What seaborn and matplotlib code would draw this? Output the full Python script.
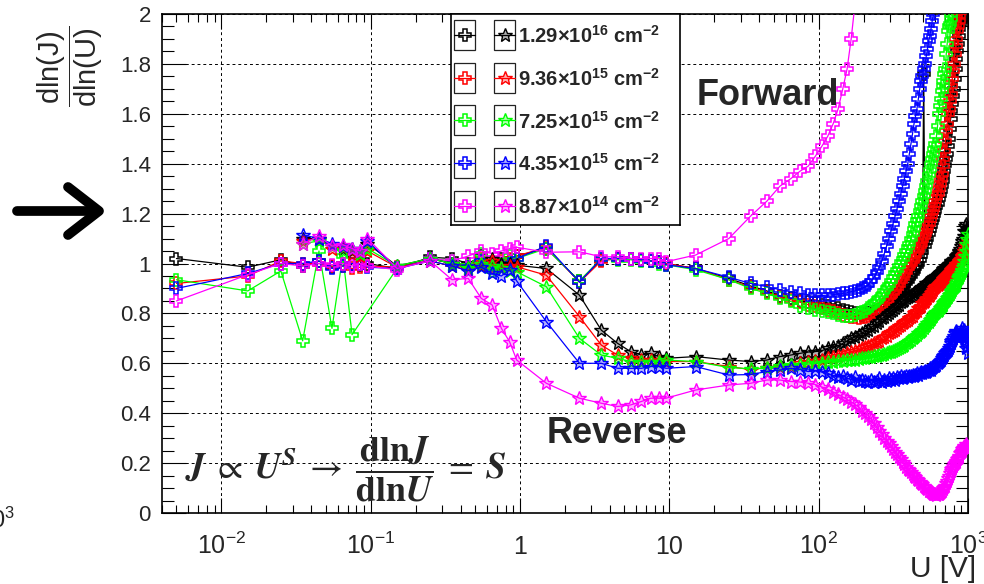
import matplotlib
matplotlib.use("Agg")
import matplotlib.pyplot as plt
import seaborn as sns
import pandas as pd
from matplotlib.lines import Line2D
from matplotlib.patches import Rectangle
from matplotlib.ticker import FixedLocator, FixedFormatter, LogLocator, MultipleLocator, NullFormatter, FuncFormatter

sns.set_theme(style="ticks")
plt.rcParams['font.family'] = ['Liberation Sans', 'DejaVu Sans']
plt.rcParams['mathtext.fontset'] = 'custom'
plt.rcParams['mathtext.rm'] = 'Liberation Sans'
plt.rcParams['mathtext.it'] = 'Liberation Sans:italic'
plt.rcParams['mathtext.bf'] = 'Liberation Sans:bold'
plt.rcParams['mathtext.sf'] = 'Liberation Sans'

# ---------------- data ----------------
U_lo = [0.005, 0.015, 0.025, 0.035, 0.045, 0.055, 0.065, 0.075, 0.085, 0.095,
        0.15, 0.25, 0.35, 0.45, 0.55, 0.65, 0.75, 0.85, 0.95,
        1.5, 2.5, 3.5, 4.5, 5.5, 6.5, 7.5, 8.5, 9.5]
U_hi = [15, 25, 35, 45, 55, 65, 75, 85, 95, 105,
        115, 125, 135, 145, 155, 165, 175, 185, 195, 205,
        215, 225, 235, 245, 255, 265, 275, 285, 295, 305,
        315, 325, 335, 345, 355, 365, 375, 385, 395, 405,
        415, 425, 435, 445, 455, 465, 475, 485, 495, 505,
        515, 525, 535, 545, 555, 565, 575, 585, 595, 605,
        615, 625, 635, 645, 655, 665, 675, 685, 695, 705,
        715, 725, 735, 745, 755, 765, 775, 785, 795, 805,
        815, 825, 835, 845, 855, 865, 875, 885, 895, 905,
        915, 925, 935, 945, 955, 965, 975, 985, 995]
N = None

fluence_mant = ['1.29', '9.36', '7.25', '4.35', '8.87']
fluence_exp = ['16', '15', '15', '15', '14']
colors = ['#000000', '#ff0000', '#00ff00', '#0000ff', '#ff00ff']

# forward bias (open crosses)
fwd_k_lo = [1.02, 0.985, 1.015, 0.99, 1.01, 0.985, 1.0, 1.0, 0.995, 1.0,
            0.98, 1.025, 1.02, 1.0, 1.03, 1.0, 1.02, 1.01, 1.03,
            1.06, 0.93, 1.015, 1.02, 1.02, 1.015, 1.01, 1.007, 1.0]
fwd_k_hi = [0.98, 0.94, 0.91, 0.89, 0.87, 0.86, 0.85, 0.845, 0.84, 0.835,
            0.83, 0.825, 0.82, 0.815, 0.81, 0.805, 0.80, 0.80, 0.795, 0.80,
            0.80, 0.80, 0.805, 0.81, 0.815, 0.82, 0.83, 0.835, 0.845, 0.85,
            0.86, 0.868, 0.876, 0.884, 0.892, 0.90, 0.91, 0.92, 0.93, 0.94,
            0.95, 0.96, 0.97, 0.98, 0.99, 1.0, 1.015, 1.03, 1.045, 1.76,
            1.07, 1.085, 1.10, 1.12, 1.135, 1.15, 1.165, 1.18, 1.195, 1.21,
            1.225, 1.24, 1.26, 1.275, 1.29, 1.31, 1.33, 1.35, 1.37, 1.395,
            1.42, 1.44, 1.47, 1.50, 1.54, 1.58, 1.61, 1.64, 1.67, 1.70,
            1.74, 1.78, 1.82, 1.85, 1.88, 1.91, 1.94, 1.96, 1.97, 1.98,
            1.99, 2.0, 2.02, 2.05, N, N, N, N, N]
fwd_r_lo = [0.92, 0.95, 1.01, 1.0, 1.0, 0.99, 0.99, 0.98, 0.985, 0.99,
            0.985, 1.02, 1.0, 0.99, 1.02, 0.99, 1.01, 1.02, 1.03,
            1.065, 0.925, 1.01, 1.02, 1.02, 1.015, 1.01, 1.005, 1.0]
fwd_r_hi = [0.98, 0.935, 0.905, 0.885, 0.865, 0.855, 0.845, 0.835, 0.83, 0.82,
            0.815, 0.81, 0.80, 0.795, 0.79, 0.785, 0.785, 0.78, 0.785, 0.785,
            0.79, 0.795, 0.80, 0.805, 0.815, 0.825, 0.835, 0.845, 0.855, 0.865,
            0.88, 0.89, 0.90, 0.915, 0.93, 0.94, 0.955, 0.965, 0.98, 0.99,
            1.0, 1.01, 1.02, 1.035, 1.045, 1.055, 1.07, 1.08, 1.095, 1.105,
            1.12, 1.13, 1.145, 1.16, 1.175, 1.19, 1.205, 1.22, 1.235, 1.25,
            1.265, 1.28, 1.30, 1.32, 1.34, 1.36, 1.39, 1.42, 1.45, 1.49,
            1.53, 1.56, 1.60, 1.62, 1.65, 1.68, 1.71, 1.74, 1.77, 1.80,
            1.84, 1.87, 1.90, 1.93, 1.95, 1.97, 1.99, 2.01, 2.04, 2.08,
            N, N, N, N, N, N, N, N, N]
fwd_g_lo = [0.935, 0.89, 0.97, 0.69, 1.05, 0.74, 1.03, 0.715, N, N,
            0.98, 1.02, 1.01, 0.99, 1.04, 0.97, 1.0, 1.03, 1.02,
            1.06, 0.93, 1.02, 1.015, 1.015, 1.01, 1.01, 1.0, 0.995]
fwd_g_hi = [0.975, 0.935, 0.90, 0.88, 0.86, 0.848, 0.83, 0.82, 0.815, 0.81,
            0.805, 0.80, 0.795, 0.79, 0.79, 0.79, 0.795, 0.80, 0.805, 0.81,
            0.82, 0.83, 0.84, 0.85, 0.86, 0.875, 0.89, 0.90, 0.915, 0.93,
            0.945, 0.96, 0.975, 0.99, 1.005, 1.02, 1.035, 1.05, 1.065, 1.08,
            1.10, 1.12, 1.14, 1.16, 1.175, 1.19, 1.21, 1.23, 1.25, 1.27,
            1.29, 1.31, 1.33, 1.355, 1.375, 1.40, 1.42, 1.44, 1.46, 1.48,
            1.51, 1.55, 1.60, 1.63, 1.66, 1.69, 1.71, 1.73, 1.76, 1.78,
            1.84, 1.88, 1.93, 1.95, 1.96, 1.98, 2.0, 2.03, 2.06, 2.10,
            N, N, N, N, N, N, N, N, N, N,
            N, N, N, N, N, N, N, N, N]
fwd_b_lo = [0.90, 0.96, 1.0, 1.0, 1.01, 0.98, 0.99, 1.0, 1.0, 0.985,
            0.98, 1.02, 1.0, 0.985, 1.01, 0.98, 0.99, 1.0, 1.02,
            1.07, 0.925, 1.02, 1.02, 1.02, 1.015, 1.01, 1.005, 0.995]
fwd_b_hi = [0.98, 0.945, 0.92, 0.907, 0.895, 0.887, 0.88, 0.875, 0.873, 0.872,
            0.873, 0.875, 0.878, 0.88, 0.883, 0.887, 0.89, 0.895, 0.90, 0.907,
            0.915, 0.93, 0.945, 0.965, 0.985, 1.01, 1.04, 1.07, 1.10, 1.13,
            1.16, 1.19, 1.22, 1.25, 1.28, 1.31, 1.34, 1.37, 1.40, 1.44,
            1.48, 1.52, 1.56, 1.59, 1.62, 1.66, 1.70, 1.73, 1.75, 1.78,
            1.80, 1.83, 1.86, 1.89, 1.91, 1.94, 1.97, 2.0, 2.04, N,
            N, N, N, N, N, N, N, N, N, N,
            N, N, N, N, N, N, N, N, N, N,
            N, N, N, N, N, N, N, N, N, N,
            N, N, N, N, N, N, N, N, N]
fwd_m_lo = [0.85, 0.955, 1.0, 0.99, 1.0, 0.995, 1.0, 0.99, 1.0, 0.99,
            0.975, 1.02, 1.01, 1.03, 1.05, 1.04, 1.05, 1.06, 1.065,
            1.045, 1.047, 1.027, 1.027, 1.02, 1.02, 1.02, 1.02, 1.007]
fwd_m_hi = [1.034, 1.10, 1.19, 1.25, 1.31, 1.34, 1.37, 1.39, 1.43, 1.47,
            1.51, 1.56, 1.62, 1.70, 1.78, 1.90, 2.04, N, N, N,
            N, N, N, N, N, N, N, N, N, N,
            N, N, N, N, N, N, N, N, N, N,
            N, N, N, N, N, N, N, N, N, N,
            N, N, N, N, N, N, N, N, N, N,
            N, N, N, N, N, N, N, N, N, N,
            N, N, N, N, N, N, N, N, N, N,
            N, N, N, N, N, N, N, N, N, N,
            N, N, N, N, N, N, N, N, N]

# reverse bias (stars)
rev_k_lo = [N, N, N, 1.10, 1.10, 1.07, 1.06, 1.05, 1.04, 1.08,
            0.99, 1.02, 1.0, 0.98, 0.99, 1.02, 1.0, 1.0, 0.993,
            0.98, 0.873, 0.733, 0.68, 0.647, 0.633, 0.64, 0.627, 0.62]
rev_k_hi = [0.627, 0.613, 0.607, 0.613, 0.627, 0.633, 0.64, 0.645, 0.647, 0.65,
            0.66, 0.665, 0.67, 0.68, 0.69, 0.70, 0.705, 0.715, 0.72, 0.73,
            0.735, 0.745, 0.75, 0.76, 0.77, 0.78, 0.785, 0.795, 0.80, 0.81,
            0.815, 0.82, 0.83, 0.835, 0.845, 0.85, 0.855, 0.86, 0.865, 0.87,
            0.87, 0.875, 0.88, 0.884, 0.888, 0.893, 0.897, 0.90, 0.905, 0.91,
            0.915, 0.92, 0.922, 0.926, 0.93, 0.934, 0.938, 0.94, 0.944, 0.947,
            0.95, 0.952, 0.956, 0.96, 0.964, 0.968, 0.972, 0.976, 0.98, 0.983,
            0.985, 0.99, 0.995, 1.0, 1.0, 1.005, 1.01, 1.01, 1.015, 1.02,
            1.02, 1.025, 1.03, 1.035, 1.04, 1.045, 1.05, 1.06, 1.07, 1.08,
            1.09, 1.10, 1.11, 1.13, 1.15, 1.13, 1.16, 1.14, 1.12]
rev_r_lo = [N, N, N, 1.09, 1.10, 1.06, 1.065, 1.04, 1.03, 1.05,
            0.985, 1.01, 0.99, 0.975, 0.995, 1.01, 0.98, 0.99, 0.987,
            0.953, 0.787, 0.673, 0.633, 0.62, 0.613, 0.613, 0.61, 0.607]
rev_r_hi = [0.607, 0.587, 0.575, 0.583, 0.587, 0.59, 0.60, 0.605, 0.61, 0.613,
            0.62, 0.625, 0.63, 0.635, 0.64, 0.645, 0.65, 0.655, 0.66, 0.667,
            0.67, 0.675, 0.68, 0.685, 0.69, 0.70, 0.705, 0.71, 0.72, 0.725,
            0.73, 0.735, 0.74, 0.75, 0.755, 0.76, 0.765, 0.77, 0.775, 0.78,
            0.785, 0.79, 0.80, 0.805, 0.81, 0.82, 0.825, 0.83, 0.84, 0.845,
            0.85, 0.857, 0.863, 0.87, 0.875, 0.88, 0.887, 0.893, 0.90, 0.905,
            0.91, 0.914, 0.918, 0.922, 0.926, 0.93, 0.934, 0.938, 0.942, 0.946,
            0.95, 0.954, 0.958, 0.962, 0.966, 0.97, 0.974, 0.978, 0.982, 0.986,
            0.99, 0.993, 0.997, 1.0, 1.004, 1.008, 1.012, 1.016, 1.02, 1.025,
            1.03, 1.035, 1.04, 1.05, 1.06, 1.07, 1.08, 1.07, 1.09]
rev_g_lo = [N, N, N, 1.08, 1.09, 1.07, 1.05, 1.06, 1.04, 1.06,
            0.99, 1.02, 1.0, 0.98, 1.0, 0.99, 0.98, 0.97, 0.967,
            0.907, 0.70, 0.633, 0.62, 0.607, 0.607, 0.607, 0.607, 0.613]
rev_g_hi = [0.607, 0.583, 0.578, 0.58, 0.59, 0.593, 0.595, 0.597, 0.60, 0.603,
            0.605, 0.607, 0.608, 0.61, 0.612, 0.613, 0.615, 0.617, 0.62, 0.622,
            0.624, 0.626, 0.628, 0.63, 0.632, 0.635, 0.638, 0.641, 0.644, 0.647,
            0.65, 0.653, 0.656, 0.66, 0.665, 0.67, 0.675, 0.68, 0.685, 0.69,
            0.695, 0.70, 0.705, 0.71, 0.715, 0.72, 0.725, 0.73, 0.735, 0.742,
            0.75, 0.755, 0.76, 0.766, 0.772, 0.778, 0.784, 0.79, 0.796, 0.80,
            0.805, 0.81, 0.815, 0.82, 0.825, 0.83, 0.835, 0.84, 0.845, 0.85,
            0.855, 0.86, 0.866, 0.872, 0.878, 0.884, 0.89, 0.895, 0.90, 0.905,
            0.91, 0.915, 0.92, 0.93, 0.94, 0.945, 0.95, 0.955, 0.96, 0.97,
            0.975, 0.985, 0.995, 1.01, 1.03, 1.05, 1.08, 1.10, 1.12]
rev_b_lo = [N, N, N, 1.115, 1.10, 1.08, 1.07, 1.06, 1.05, 1.09,
            0.98, 1.01, 0.99, 0.97, 0.985, 0.96, 0.95, 0.975, 0.93,
            0.767, 0.60, 0.60, 0.58, 0.58, 0.58, 0.587, 0.587, 0.58]
rev_b_hi = [0.587, 0.553, 0.555, 0.567, 0.573, 0.58, 0.575, 0.567, 0.57, 0.565,
            0.56, 0.55, 0.545, 0.55, 0.54, 0.535, 0.545, 0.53, 0.535, 0.53,
            0.527, 0.535, 0.525, 0.53, 0.54, 0.525, 0.535, 0.53, 0.54, 0.535,
            0.54, 0.535, 0.545, 0.54, 0.55, 0.54, 0.545, 0.55, 0.545, 0.55,
            0.55, 0.555, 0.55, 0.555, 0.56, 0.555, 0.56, 0.565, 0.56, 0.565,
            0.57, 0.565, 0.57, 0.575, 0.58, 0.575, 0.58, 0.585, 0.59, 0.59,
            0.595, 0.60, 0.605, 0.61, 0.615, 0.62, 0.625, 0.63, 0.635, 0.64,
            0.645, 0.65, 0.655, 0.66, 0.67, 0.68, 0.69, 0.695, 0.70, 0.71,
            0.72, 0.73, 0.725, 0.71, 0.70, 0.705, 0.715, 0.72, 0.73, 0.74,
            0.72, 0.71, 0.735, 0.72, 0.70, 0.68, 0.66, 0.67, 0.64]
rev_m_lo = [N, N, N, 1.08, 1.11, 1.07, 1.075, 1.06, 1.05, 1.10,
            0.98, 1.01, 0.935, 0.94, 0.86, 0.834, 0.74, 0.687, 0.613,
            0.52, 0.46, 0.44, 0.427, 0.433, 0.447, 0.46, 0.46, 0.46]
rev_m_hi = [0.493, 0.513, 0.52, 0.533, 0.533, 0.527, 0.525, 0.52, 0.515, 0.505,
            0.495, 0.485, 0.475, 0.465, 0.455, 0.445, 0.435, 0.425, 0.41, 0.40,
            0.39, 0.375, 0.36, 0.345, 0.33, 0.315, 0.30, 0.29, 0.28, 0.27,
            0.255, 0.245, 0.235, 0.225, 0.215, 0.205, 0.195, 0.185, 0.178, 0.172,
            0.165, 0.158, 0.15, 0.145, 0.138, 0.132, 0.125, 0.12, 0.115, 0.11,
            0.105, 0.10, 0.095, 0.09, 0.087, 0.083, 0.08, 0.078, 0.075, 0.075,
            0.073, 0.075, 0.078, 0.082, 0.085, 0.09, 0.095, 0.10, 0.105, 0.11,
            0.12, 0.13, 0.14, 0.15, 0.16, 0.17, 0.175, 0.18, 0.19, 0.195,
            0.20, 0.205, 0.21, 0.215, 0.22, 0.225, 0.23, 0.24, 0.245, 0.25,
            0.255, 0.26, 0.265, 0.27, 0.265, 0.27, 0.275, 0.27, 0.265]

x_ticks = [1e-2, 1e-1, 1, 10, 100, 1000]
x_ticklabels = [r'$\mathregular{10^{-2}}$', r'$\mathregular{10^{-1}}$', '1', '10',
                r'$\mathregular{10^{2}}$', r'$\mathregular{10^{3}}$']
y_ticks = [0, 0.2, 0.4, 0.6, 0.8, 1.0, 1.2, 1.4, 1.6, 1.8, 2.0]

U_all = U_lo + U_hi
forward = [fwd_k_lo + fwd_k_hi, fwd_r_lo + fwd_r_hi, fwd_g_lo + fwd_g_hi,
           fwd_b_lo + fwd_b_hi, fwd_m_lo + fwd_m_hi]
reverse = [rev_k_lo + rev_k_hi, rev_r_lo + rev_r_hi, rev_g_lo + rev_g_hi,
           rev_b_lo + rev_b_hi, rev_m_lo + rev_m_hi]

# ---------------- figure ----------------
W, H = 984, 584
fig = plt.figure(figsize=(W / 100, H / 100), dpi=100, facecolor='white')
AX_L, AX_R, AX_T, AX_B = 162, 968, 14, 513
ax = fig.add_axes([AX_L / W, 1 - AX_B / H, (AX_R - AX_L) / W, (AX_B - AX_T) / H])
ax.set_facecolor('white')
ax.set_xscale('log')


def star_face(c, a=0.3):
    rgb = matplotlib.colors.to_rgb(c)
    return (rgb[0], rgb[1], rgb[2], a)


for ys, c in zip(forward, colors):
    d = pd.DataFrame({'U': U_all, 'S': ys}).dropna()
    sns.lineplot(data=d, x='U', y='S', ax=ax, sort=False, estimator=None, legend=False,
                 color=c, linewidth=0.9, marker='P', markersize=8.5,
                 markerfacecolor='none', markeredgecolor=c, markeredgewidth=1.1, zorder=3)
for ys, c in zip(reverse, colors):
    d = pd.DataFrame({'U': U_all, 'S': ys}).dropna()
    sns.lineplot(data=d, x='U', y='S', ax=ax, sort=False, estimator=None, legend=False,
                 color=c, linewidth=0.9, marker='*', markersize=10,
                 markerfacecolor=star_face(c), markeredgecolor=c, markeredgewidth=1.0, zorder=3)

ax.set_xlim(0.004, 1000)
ax.set_ylim(0, 2)
ax.set_xlabel('')
ax.set_ylabel('')

ax.xaxis.set_major_locator(FixedLocator(x_ticks))
ax.xaxis.set_major_formatter(FixedFormatter(x_ticklabels))
ax.xaxis.set_minor_locator(LogLocator(base=10, subs=[2, 3, 4, 5, 6, 7, 8, 9], numticks=20))
ax.xaxis.set_minor_formatter(NullFormatter())
ax.yaxis.set_major_locator(FixedLocator(y_ticks))
ax.yaxis.set_major_formatter(FuncFormatter(lambda v, p: '%g' % round(v, 2)))
ax.yaxis.set_minor_locator(MultipleLocator(0.05))

ax.grid(True, which='major', color='black', linestyle=(0, (3, 3)), linewidth=0.7)
ax.set_axisbelow(True)
for s in ax.spines.values():
    s.set_visible(True)
    s.set_color('black')
    s.set_linewidth(1.2)

ax.tick_params(axis='both', which='both', direction='in', top=True, right=True,
               color='black', width=0.8)
ax.tick_params(axis='y', which='major', length=17, labelsize=16, pad=8)
ax.tick_params(axis='y', which='minor', length=8.5)
ax.tick_params(axis='x', which='major', length=11, labelsize=18, pad=29.5)
ax.tick_params(axis='x', which='minor', length=5.5)
for t in ax.xaxis.get_major_ticks():
    t.label1.set_verticalalignment('baseline')
    t.label1.set_fontfamily(['Liberation Sans Narrow', 'Liberation Sans', 'DejaVu Sans'])


def fx(px):
    return px / W


def fy(py):
    return 1 - py / H


# y label (rotated fraction)
fig.text(fx(70), fy(66), r'$\dfrac{\mathregular{dln(J)}}{\mathregular{dln(U)}}$',
         rotation=90, ha='center', va='center', fontsize=21)
# x label
fig.text(fx(976), fy(583), 'U [V]', ha='right', va='bottom', fontsize=21.5,
         family=['Liberation Sans Narrow', 'Liberation Sans', 'DejaVu Sans'])
# cropped neighbour label at far left
fig.text(fx(15), fy(520), r'$\mathregular{10^{3}}$', ha='right', va='center', fontsize=17,
         family=['Liberation Sans Narrow', 'Liberation Sans', 'DejaVu Sans'])

# big arrow pointing to 1.2
yA = fy(211)
fig.add_artist(Line2D([fx(17), fx(96)], [yA, yA], color='black', lw=7, solid_capstyle='round'))
fig.add_artist(Line2D([fx(68), fx(99), fx(68)], [fy(187), yA, fy(235)], color='black', lw=7,
                      solid_capstyle='round', solid_joinstyle='round'))

# annotations
fig.text(fx(697), fy(105), 'Forward', fontsize=26, fontweight='bold', ha='left', va='baseline')
fig.text(fx(547), fy(443), 'Reverse', fontsize=26, fontweight='bold', ha='left', va='baseline')
fig.text(fx(185), fy(469),
         r'$\mathbfit{J}\;\propto\;\mathbfit{U}^{\mathbfit{S}}\;\rightarrow\;'
         r'\dfrac{\mathbf{dln}\mathbfit{J}}{\mathbf{dln}\mathbfit{U}}\;=\;\mathbfit{S}$',
         fontsize=26, ha='left', va='center', math_fontfamily='stix')

# legend (drawn in its own pixel-based axes)
LG_L, LG_T, LG_W, LG_H = 451, 14, 229, 211
lax = fig.add_axes([fx(LG_L), fy(LG_T + LG_H), LG_W / W, LG_H / H])
lax.set_xlim(0, LG_W)
lax.set_ylim(LG_H, 0)
lax.set_xticks([])
lax.set_yticks([])
lax.set_facecolor('white')
for s in lax.spines.values():
    s.set_visible(True)
    s.set_color('black')
    s.set_linewidth(1.2)
for i, (c, m, e) in enumerate(zip(colors, fluence_mant, fluence_exp)):
    yc = 21 + 42.7 * i
    for x0, mk in ((3, 'P'), (43, '*')):
        lax.add_patch(Rectangle((x0, yc - 15), 21, 30, fill=False, ec='#222222', lw=0.9))
        lax.plot([x0, x0 + 21], [yc, yc], color=c, lw=0.9)
        if mk == 'P':
            lax.plot([x0 + 10.5], [yc], marker='P', markersize=8.5, markerfacecolor='none',
                     markeredgecolor=c, markeredgewidth=1.1, color=c)
        else:
            lax.plot([x0 + 10.5], [yc], marker='*', markersize=10, markerfacecolor=star_face(c),
                     markeredgecolor=c, markeredgewidth=1.0, color=c)
    lax.text(67, yc + 1, r'$\mathbf{%s{\times}10^{%s}\ cm^{-2}}$' % (m, e),
             ha='left', va='center', fontsize=14.5)

fig.savefig('out.png', dpi=100, facecolor='white')
